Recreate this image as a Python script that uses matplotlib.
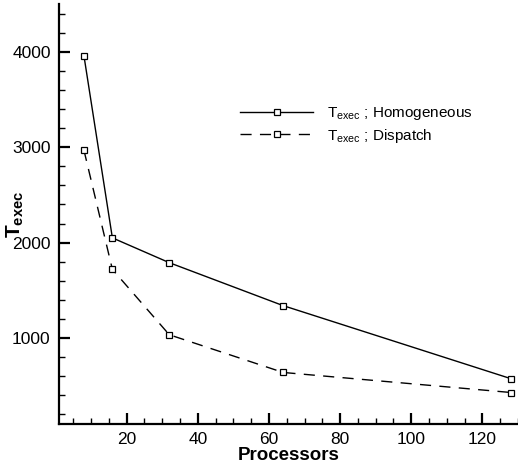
import numpy as np
import matplotlib
matplotlib.use("Agg")
import matplotlib.pyplot as plt
from matplotlib.ticker import MultipleLocator

plt.rcParams["font.family"] = ["Liberation Sans", "DejaVu Sans"]
plt.rcParams["mathtext.fontset"] = "custom"
plt.rcParams["mathtext.rm"] = "Liberation Sans"
plt.rcParams["mathtext.bf"] = "Liberation Sans:bold"
plt.rcParams["mathtext.default"] = "regular"

# data
processors = [8, 16, 32, 64, 128]
t_homogeneous = [3960, 2050, 1790, 1340, 575]
t_dispatch = [2970, 1720, 1035, 640, 430]

x_ticks = [20, 40, 60, 80, 100, 120]
y_ticks = [1000, 2000, 3000, 4000]

fig = plt.figure(figsize=(5.18, 4.66), dpi=100)
ax = fig.add_axes([59 / 518, 42 / 466, 459 / 518, 420 / 466])

ax.plot(processors, t_homogeneous, color="black", linewidth=1.0,
        marker="s", markersize=3.8, markerfacecolor="white", markeredgewidth=0.9,
        label=r"$T_{exec}$ ; Homogeneous")
ax.plot(processors, t_dispatch, color="black", linewidth=1.0, dashes=(8, 6),
        marker="s", markersize=3.8, markerfacecolor="white", markeredgewidth=0.9,
        label=r"$T_{exec}$ ; Dispatch")

ax.set_xlim(1, 130)
ax.set_ylim(100, 4500)
ax.set_xticks(x_ticks)
ax.set_yticks(y_ticks)
ax.xaxis.set_minor_locator(MultipleLocator(5))
ax.yaxis.set_minor_locator(MultipleLocator(200))

for side in ("top", "right"):
    ax.spines[side].set_visible(False)
for side in ("left", "bottom"):
    ax.spines[side].set_linewidth(1.6)

ax.tick_params(which="major", direction="in", length=8, width=1.6, labelsize=12.5, pad=6)
ax.tick_params(which="minor", direction="in", length=4.5, width=1.0)

ax.set_xlabel("Processors", fontsize=13.5, fontweight="bold", labelpad=0)
ax.set_ylabel(r"$\mathbf{T_{exec}}$", fontsize=15)
ax.yaxis.set_label_coords(-0.072, 0.5)

ax.legend(loc="upper left", bbox_to_anchor=(240 / 518, 1 - 105 / 466),
          bbox_transform=fig.transFigure, frameon=False, fontsize=11,
          handlelength=4.8, handletextpad=0.9, numpoints=1,
          borderpad=0, borderaxespad=0, labelspacing=0.3)

fig.savefig("out.png", dpi=100)
